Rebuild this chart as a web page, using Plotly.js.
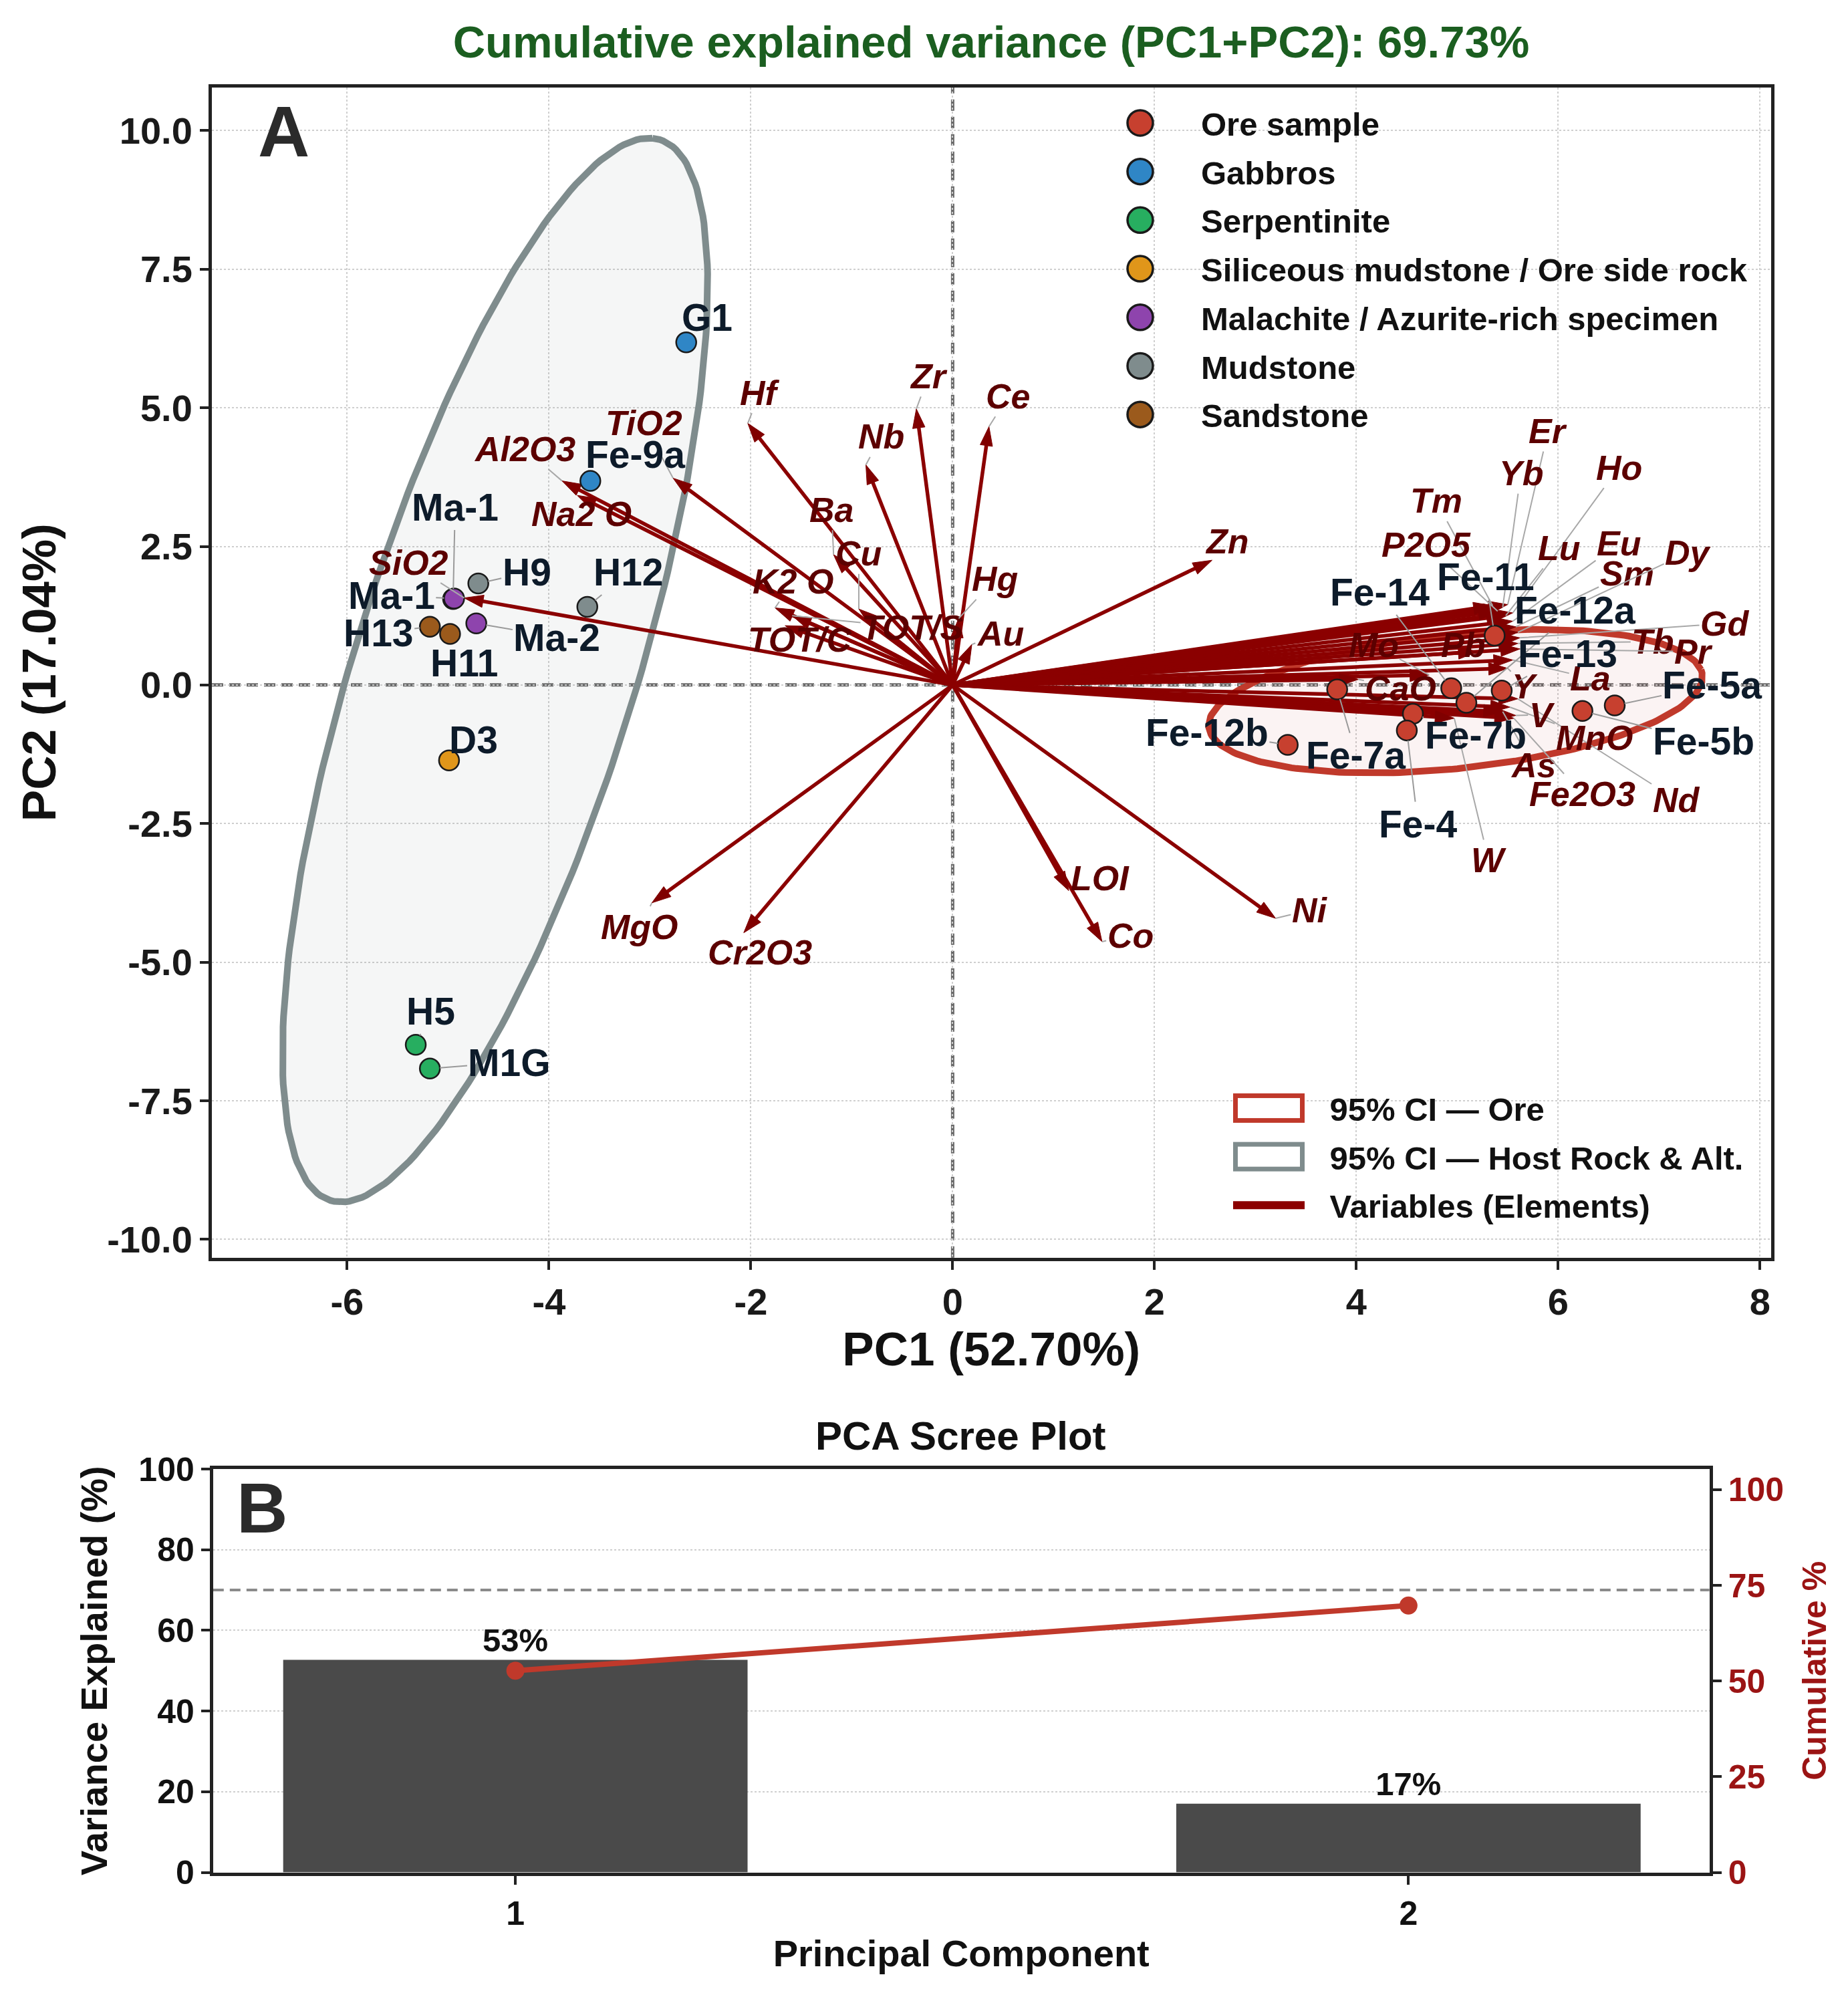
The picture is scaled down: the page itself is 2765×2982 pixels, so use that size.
<!DOCTYPE html>
<html>
<head>
<meta charset="utf-8">
<script src="https://cdn.plot.ly/plotly-3.0.1.min.js"></script>
<style>
html,body{margin:0;padding:0;background:#ffffff;}
#chart{width:2765px;height:2982px;}
</style>
</head>
<body>
<div id="chart"></div>
<script>
// ---------------- DATA ----------------
const groupNames = ['Ore sample','Gabbros','Serpentinite','Siliceous mudstone / Ore side rock','Malachite / Azurite-rich specimen','Mudstone','Sandstone'];

const sampleNames  = ['Fe-14','Fe-11','Fe-12a','Fe-13','Fe-5a','Fe-5b','Fe-7b','Fe-7a','Fe-12b','Fe-4',
                      'G1','Fe-9a','H5','M1G','D3','Ma-1','Ma-1','Ma-2','H9','H12','H13','H11'];
const sampleGroups = ['Ore sample','Ore sample','Ore sample','Ore sample','Ore sample','Ore sample','Ore sample','Ore sample','Ore sample','Ore sample',
                      'Gabbros','Gabbros','Serpentinite','Serpentinite','Siliceous mudstone / Ore side rock',
                      'Malachite / Azurite-rich specimen','Malachite / Azurite-rich specimen','Malachite / Azurite-rich specimen',
                      'Mudstone','Mudstone','Sandstone','Sandstone'];
const pc1Scores = [4.94, 5.37, 5.09, 5.44, 6.56, 6.24, 4.56, 3.81, 3.32, 4.50,
                   -2.64, -3.59, -5.32, -5.18, -4.99, -4.95, -4.94, -4.72, -4.70, -3.62, -5.18, -4.98];
const pc2Scores = [-0.06, 0.89, -0.32, -0.10, -0.37, -0.47, -0.52, -0.08, -1.08, -0.82,
                   6.18, 3.68, -6.49, -6.92, -1.36, 1.55, 1.56, 1.11, 1.83, 1.41, 1.05, 0.92];

const variableNames = ['SiO2','Al2O3','TiO2','Na2 O','K2 O','TOT/C','TOT/S','Ba','Cu','Hf','Nb','Zr','Ce','Hg','Au','Zn',
                       'MgO','Cr2O3','LOI','Co','Ni',
                       'Er','Yb','Ho','Tm','P2O5','Lu','Eu','Sm','Dy','Gd','Tb','Pr','Nd','La','Y','Pb','Mo','CaO','MnO','As','V','Fe2O3','W'];
const loadPC1 = [-4.84,-3.87,-2.77,-3.72,-1.76,-1.66,-1.59,-1.18,-0.93,-2.03,-0.86,-0.36,0.36,0.06,0.19,2.57,
                 -2.98,-2.07,1.15,1.48,3.20,
                 5.50,5.45,5.55,5.35,5.40,5.48,5.55,5.58,5.60,5.62,5.60,5.62,5.60,5.55,5.50,5.20,4.72,4.02,5.52,5.45,5.58,5.56,4.97];
const loadPC2 = [1.57,3.68,3.73,3.42,1.39,1.07,1.25,2.35,1.37,4.72,3.97,4.98,4.66,1.20,0.73,2.25,
                 -3.93,-4.47,-3.71,-4.63,-4.21,
                 1.45,1.40,1.30,1.43,1.33,1.25,1.15,1.05,0.95,0.85,0.75,0.65,-0.25,0.45,0.30,0.60,0.18,0.10,-0.40,-0.48,-0.55,-0.60,-0.60];

const screeComponents    = [1, 2];
const varianceExplained  = [52.70, 17.04];
const cumulativeVariance = [52.70, 69.73];
const referenceLinePct   = 70;

const xTickVals  = [-6,-4,-2,0,2,4,6,8];
const yTickVals  = [-10,-7.5,-5,-2.5,0,2.5,5,7.5,10];
const screeLeftTicks  = [0,20,40,60,80,100];
const screeRightTicks = [0,25,50,75,100];

// ---------------- LAYOUT / STYLE (label placement offsets, colours, sizes) ----------------
const sampleLabelOffset = [[-0.71,1.73],[-0.09,1.06],[1.08,1.67],[0.65,0.66],[0.97,0.37],[1.20,-0.55],[0.62,-0.38],[0.19,-1.19],[-0.80,0.22],[0.11,-1.69],
                           [0.21,0.45],[0.45,0.48],[0.15,0.60],[0.79,0.11],[0.24,0.37],[0.02,1.65],[-0.62,0.05],[0.80,-0.25],[0.48,0.20],[0.41,0.62],[-0.51,-0.11],[0.14,-0.52]];
const variableLabelOffset = [[-0.55,0.64],[-0.37,0.58],[-0.29,0.99],[0.04,-0.34],[0.18,0.48],[0.15,-0.25],[1.19,-0.22],[-0.02,0.81],[0,1.0],[0.12,0.55],[0.15,0.51],[0.12,0.59],[0.19,0.55],[0.36,0.71],[0.28,0.20],[0.15,0.34],
                             [-0.12,-0.43],[0.16,-0.35],[0.31,0.23],[0.28,0.11],[0.34,0.15],
                             [0.40,3.13],[0.18,2.42],[1.05,2.62],[-0.56,1.89],[-0.71,1.20],[0.53,1.22],[1.05,1.40],[1.10,0.96],[1.69,1.44],[2.03,0.26],[1.34,0.03],[1.72,-0.05],[1.57,-1.82],[0.77,-0.33],[0.17,-0.32],[-0.14,0.12],[-0.55,0.54],[0.42,-0.16],[0.84,-0.56],[0.30,-0.97],[0.26,0.01],[0.68,-1.37],[0.34,-2.56]];

const groupColors = {
  'Ore sample':'#c7402f',
  'Gabbros':'#2f86c6',
  'Serpentinite':'#27ae60',
  'Siliceous mudstone / Ore side rock':'#e0961a',
  'Malachite / Azurite-rich specimen':'#8e44ad',
  'Mudstone':'#7f8c8d',
  'Sandstone':'#9b5a1c'
};
const FONT = 'Liberation Sans, Arial, Helvetica, sans-serif';
const W = 2765, H = 2982;
const xDom = [0.11465, 0.95826], yDom = [0.36898, 0.95617];
const xRange = [-7.34, 8.107], yRange = [-10.33, 10.78];
const CHI2_95 = 5.991;

// ---------------- helpers ----------------
function confEllipse(xs, ys, scale, n){
  const m = xs.length;
  const mx = xs.reduce((a,b)=>a+b,0)/m, my = ys.reduce((a,b)=>a+b,0)/m;
  let sxx=0, syy=0, sxy=0;
  for(let i=0;i<m;i++){const dx=xs[i]-mx, dy=ys[i]-my; sxx+=dx*dx; syy+=dy*dy; sxy+=dx*dy;}
  sxx/=(m-1); syy/=(m-1); sxy/=(m-1);
  const tr=sxx+syy, det=sxx*syy-sxy*sxy, disc=Math.sqrt(Math.max(tr*tr/4-det,0));
  const l1=tr/2+disc, l2=Math.max(tr/2-disc,0);
  const theta = Math.atan2(l1-sxx, sxy);
  const a=scale*Math.sqrt(l1), b=scale*Math.sqrt(l2);
  const ex=[], ey=[];
  for(let k=0;k<=n;k++){
    const t=2*Math.PI*k/n, u=a*Math.cos(t), v=b*Math.sin(t);
    ex.push(mx+u*Math.cos(theta)-v*Math.sin(theta));
    ey.push(my+u*Math.sin(theta)+v*Math.cos(theta));
  }
  return {x:ex, y:ey};
}
const pxPerX = W*(xDom[1]-xDom[0])/(xRange[1]-xRange[0]);
const pxPerY = H*(yDom[1]-yDom[0])/(yRange[1]-yRange[0]);
function needsLeader(dx, dy, text, fs){
  const halfW = text.length*0.3*fs + 6, halfH = 0.55*fs;
  return Math.abs(dx*pxPerX) > halfW || Math.abs(dy*pxPerY) > halfH;
}
// unique samples (a sample name counted once) for the confidence ellipses
function uniqueIdx(pred){
  const seen = new Set(), out = [];
  sampleNames.forEach((s,i)=>{ if(pred(i) && !seen.has(s)){ seen.add(s); out.push(i); } });
  return out;
}

// ---------------- traces ----------------
const traces = [];
const oreIdx = uniqueIdx(i=>sampleGroups[i]==='Ore sample');
const hostIdx = uniqueIdx(i=>sampleGroups[i]!=='Ore sample');
const sc = Math.sqrt(CHI2_95);
const oreE = confEllipse(oreIdx.map(i=>pc1Scores[i]), oreIdx.map(i=>pc2Scores[i]), sc, 240);
const hostE = confEllipse(hostIdx.map(i=>pc1Scores[i]), hostIdx.map(i=>pc2Scores[i]), sc, 240);

traces.push({type:'scatter', mode:'lines', x:oreE.x, y:oreE.y, fill:'toself', fillcolor:'rgba(192,57,43,0.06)',
  line:{color:'#c0392b', width:10}, name:'95% CI — Ore', legend:'legend2', legendgroup:'ci_ore', hoverinfo:'skip', xaxis:'x', yaxis:'y'});
traces.push({type:'scatter', mode:'lines', x:hostE.x, y:hostE.y, fill:'toself', fillcolor:'rgba(127,140,141,0.08)',
  line:{color:'#7f8c8d', width:10}, name:'95% CI — Host Rock & Alt.', legend:'legend2', legendgroup:'ci_host', hoverinfo:'skip', xaxis:'x', yaxis:'y'});

const arX=[], arY=[], arS=[];
variableNames.forEach((v,i)=>{ arX.push(0, loadPC1[i], null); arY.push(0, loadPC2[i], null); arS.push(0, 30, 0); });
traces.push({type:'scatter', mode:'lines+markers', x:arX, y:arY,
  line:{color:'#8b0000', width:5.5},
  marker:{symbol:'arrow', size:arS, angleref:'previous', color:'#800000', opacity:1, line:{width:1, color:'#800000'}},
  name:'Variables (Elements)', legend:'legend2', legendgroup:'vars', hoverinfo:'skip', xaxis:'x', yaxis:'y'});

groupNames.forEach((g,gi)=>{
  const idx = sampleGroups.map((s,i)=>s===g?i:-1).filter(i=>i>=0);
  traces.push({type:'scatter', mode:'markers', x:idx.map(i=>pc1Scores[i]), y:idx.map(i=>pc2Scores[i]),
    text:idx.map(i=>sampleNames[i]), name:g, legend:'legend', legendgroup:'grp'+gi,
    marker:{size:30, color:groupColors[g], line:{color:'#1a1a1a', width:2.5}}, xaxis:'x', yaxis:'y'});
});

traces.push({type:'bar', x:screeComponents, y:varianceExplained, width:0.52, marker:{color:'#4a4a4a'},
  text:varianceExplained.map(v=>Math.round(v)+'%'), textposition:'outside', constraintext:'none', cliponaxis:false,
  outsidetextfont:{family:FONT, size:49, color:'#111111', weight:'bold'},
  xaxis:'x2', yaxis:'y2', showlegend:false, hoverinfo:'skip'});
traces.push({type:'scatter', mode:'lines+markers', x:screeComponents, y:cumulativeVariance,
  line:{color:'#c0392b', width:8}, marker:{size:27, color:'#c0392b'},
  xaxis:'x2', yaxis:'y3', showlegend:false, hoverinfo:'skip', cliponaxis:false});

// ---------------- annotations ----------------
const annotations = [];
variableNames.forEach((v,i)=>{
  const off = variableLabelOffset[i];
  const lx = loadPC1[i]+off[0], ly = loadPC2[i]+off[1];
  const font = {family:FONT, size:52, color:'#5c0000', style:'italic', weight:'bold'};
  if(needsLeader(off[0], off[1], v, 52)){
    annotations.push({xref:'x', yref:'y', axref:'x', ayref:'y', x:loadPC1[i], y:loadPC2[i], ax:lx, ay:ly, text:v,
      showarrow:true, arrowhead:0, arrowwidth:2, arrowcolor:'#a8a8a8', standoff:0, font:font});
  } else {
    annotations.push({xref:'x', yref:'y', x:lx, y:ly, text:v, showarrow:false, font:font});
  }
});
sampleNames.forEach((s,i)=>{
  const off = sampleLabelOffset[i];
  const lx = pc1Scores[i]+off[0], ly = pc2Scores[i]+off[1];
  const font = {family:FONT, size:57, color:'#0d1b2a', weight:'bold'};
  if(needsLeader(off[0], off[1], s, 57)){
    annotations.push({xref:'x', yref:'y', axref:'x', ayref:'y', x:pc1Scores[i], y:pc2Scores[i], ax:lx, ay:ly, text:s,
      showarrow:true, arrowhead:0, arrowwidth:2, arrowcolor:'#9a9a9a', standoff:15, font:font});
  } else {
    annotations.push({xref:'x', yref:'y', x:lx, y:ly, text:s, showarrow:false, font:font});
  }
});
annotations.push({xref:'paper', yref:'paper', x:424/W, y:1-197/H, xanchor:'center', yanchor:'middle', text:'A', showarrow:false,
  font:{family:FONT, size:107, color:'#2b2b2b', weight:'bold'}});
annotations.push({xref:'paper', yref:'paper', x:392/W, y:1-2256/H, xanchor:'center', yanchor:'middle', text:'B', showarrow:false,
  font:{family:FONT, size:106, color:'#2b2b2b', weight:'bold'}});
annotations.push({xref:'paper', yref:'paper', x:1438/W, y:1-2148/H, xanchor:'center', yanchor:'middle', text:'PCA Scree Plot', showarrow:false,
  font:{family:FONT, size:60, color:'#111111', weight:'bold'}});

// ---------------- shapes ----------------
const dashLine = {color:'#6a6a6a', width:5, dash:'17px,9px'};
const shapes = [
  {type:'line', xref:'x', yref:'y domain', x0:0, x1:0, y0:0, y1:1, line:dashLine, layer:'below'},
  {type:'line', xref:'x domain', yref:'y', x0:0, x1:1, y0:0, y1:0, line:dashLine, layer:'below'},
  {type:'line', xref:'x2 domain', yref:'y2', x0:0, x1:1, y0:referenceLinePct, y1:referenceLinePct, line:{color:'#8a8a8a', width:4, dash:'16px,9px'}, layer:'below'}
];

// ---------------- layout ----------------
const axBase = {showline:true, linecolor:'#222222', linewidth:5, ticks:'outside', ticklen:13, tickwidth:4, tickcolor:'#222222',
  zeroline:false};
const layout = {
  width:W, height:H, margin:{l:0,r:0,t:0,b:0}, paper_bgcolor:'#ffffff', plot_bgcolor:'#ffffff',
  font:{family:FONT, color:'#111111', weight:'bold'},
  showlegend:true,
  title:{text:'Cumulative explained variance (PC1+PC2): 69.73%', x:1483/W, xanchor:'center', y:1-63/H, yanchor:'middle', xref:'paper', yref:'paper',
    font:{family:FONT, size:67, color:'#1b5e20', weight:'bold'}},
  xaxis: Object.assign({}, axBase, {domain:xDom, range:xRange, anchor:'y', mirror:true,
    tickvals:xTickVals, ticktext:xTickVals.map(v=>String(v)),
    showgrid:true, gridcolor:'#cfcfcf', gridwidth:2, griddash:'dot',
    tickfont:{family:FONT, size:56, color:'#1a1a1a', weight:'bold'},
    title:{text:'PC1 (52.70%)', font:{family:FONT, size:71, color:'#111111', weight:'bold'}, standoff:15}}),
  yaxis: Object.assign({}, axBase, {domain:yDom, range:yRange, anchor:'x', mirror:true,
    tickvals:yTickVals, ticktext:yTickVals.map(v=>v.toFixed(1)),
    showgrid:true, gridcolor:'#cfcfcf', gridwidth:2, griddash:'dot',
    tickfont:{family:FONT, size:56, color:'#1a1a1a', weight:'bold'},
    title:{text:'PC2 (17.04%)', font:{family:FONT, size:71, color:'#111111', weight:'bold'}, standoff:55}}),
  xaxis2: Object.assign({}, axBase, {domain:[0.1153,0.9250], range:[0.6615,2.337], anchor:'y2', mirror:true,
    tickvals:screeComponents, ticktext:screeComponents.map(String), showgrid:false,
    tickfont:{family:FONT, size:50, color:'#111111', weight:'bold'},
    title:{text:'Principal Component', font:{family:FONT, size:56, color:'#111111', weight:'bold'}, standoff:15}}),
  yaxis2: Object.assign({}, axBase, {domain:[0.0605,0.2629], range:[0,100], anchor:'x2', mirror:true,
    tickvals:screeLeftTicks, ticktext:screeLeftTicks.map(String),
    showgrid:true, gridcolor:'#cfcfcf', gridwidth:2, griddash:'dot',
    tickfont:{family:FONT, size:50, color:'#111111', weight:'bold'},
    title:{text:'Variance Explained (%)', font:{family:FONT, size:56, color:'#111111', weight:'bold'}, standoff:30}}),
  yaxis3: Object.assign({}, axBase, {overlaying:'y2', side:'right', anchor:'x2', range:[0,105.4],
    tickvals:screeRightTicks, ticktext:screeRightTicks.map(String), showgrid:false,
    tickfont:{family:FONT, size:50, color:'#9b1414', weight:'bold'},
    title:{text:'Cumulative %', font:{family:FONT, size:50, color:'#9b1414', weight:'bold'}, standoff:30}}),
  legend:{x:1615/W, y:1-145.6/H, xanchor:'left', yanchor:'top', bgcolor:'rgba(0,0,0,0)', borderwidth:0,
    font:{family:FONT, size:49, color:'#111111', weight:'bold'}, itemwidth:172, traceorder:'grouped', tracegroupgap:6,
    itemclick:false, itemdoubleclick:false},
  legend2:{x:1807.5/W, y:1-1619.6/H, xanchor:'left', yanchor:'top', bgcolor:'rgba(0,0,0,0)', borderwidth:0,
    font:{family:FONT, size:49, color:'#111111', weight:'bold'}, itemwidth:172, traceorder:'grouped', tracegroupgap:6,
    itemclick:false, itemdoubleclick:false},
  annotations:annotations,
  shapes:shapes
};

// ---------------- legend symbol sizing (matplotlib-like large symbols) ----------------
const traceByName = {};
traces.forEach(t=>{ if(t.name) traceByName[t.name] = t; });
let restyling = false;
function legendTextOf(g){
  return Array.from(g.children).find(ch=>ch.tagName && ch.tagName.toLowerCase()==='text') || null;
}
function styleOneItem(g){
  const NS = 'http://www.w3.org/2000/svg';
  const txt = legendTextOf(g);
  if(!txt) return;
  const name = (txt.textContent || '').replace(/\u00a0/g,' ').trim();
  const tr = traceByName[name];
  if(!tr) return;
  g.querySelectorAll('.customsym').forEach(e=>e.remove());
  const tx = parseFloat(txt.getAttribute('x')) || 182;
  const cx = tx - 91;
  Array.from(g.children).forEach(ch=>{ if(ch !== txt && ch.tagName && ch.tagName.toLowerCase() === 'g') ch.style.display = 'none'; });
  let el;
  if(tr.fill === 'toself'){
    el = document.createElementNS(NS,'rect');
    el.setAttribute('x', cx-50); el.setAttribute('y', -18.5); el.setAttribute('width', 100); el.setAttribute('height', 37);
    el.setAttribute('fill', '#ffffff'); el.setAttribute('stroke', tr.line.color); el.setAttribute('stroke-width', 7);
  } else if(tr.mode === 'lines+markers'){
    el = document.createElementNS(NS,'line');
    el.setAttribute('x1', cx-53.5); el.setAttribute('x2', cx+53.5); el.setAttribute('y1', 0); el.setAttribute('y2', 0);
    el.setAttribute('stroke', tr.line.color); el.setAttribute('stroke-width', 12);
  } else {
    el = document.createElementNS(NS,'circle');
    el.setAttribute('cx', cx); el.setAttribute('cy', 0); el.setAttribute('r', 19);
    el.setAttribute('fill', tr.marker.color); el.setAttribute('stroke', '#1a1a1a'); el.setAttribute('stroke-width', 3.5);
  }
  el.setAttribute('class','customsym');
  g.insertBefore(el, g.firstChild);
}
function restyleLegends(){
  if(restyling) return;
  restyling = true;
  try {
    document.querySelectorAll('g.traces').forEach(g=>{ try { styleOneItem(g); } catch(e) {} });
  } finally { restyling = false; }
}
function legendNeedsWork(){
  return Array.from(document.querySelectorAll('g.traces')).some(g=>legendTextOf(g) && !g.querySelector('.customsym'));
}

const gd = document.getElementById('chart');
const mo = new MutationObserver(()=>{ if(!restyling && legendNeedsWork()) restyleLegends(); });
mo.observe(gd, {childList:true, subtree:true});
const p = Plotly.newPlot(gd, traces, layout, {displayModeBar:false, responsive:false});
p.then(()=>{ restyleLegends(); }).catch(()=>{ restyleLegends(); });
setTimeout(restyleLegends, 200);
setTimeout(restyleLegends, 800);
</script>
</body>
</html>
